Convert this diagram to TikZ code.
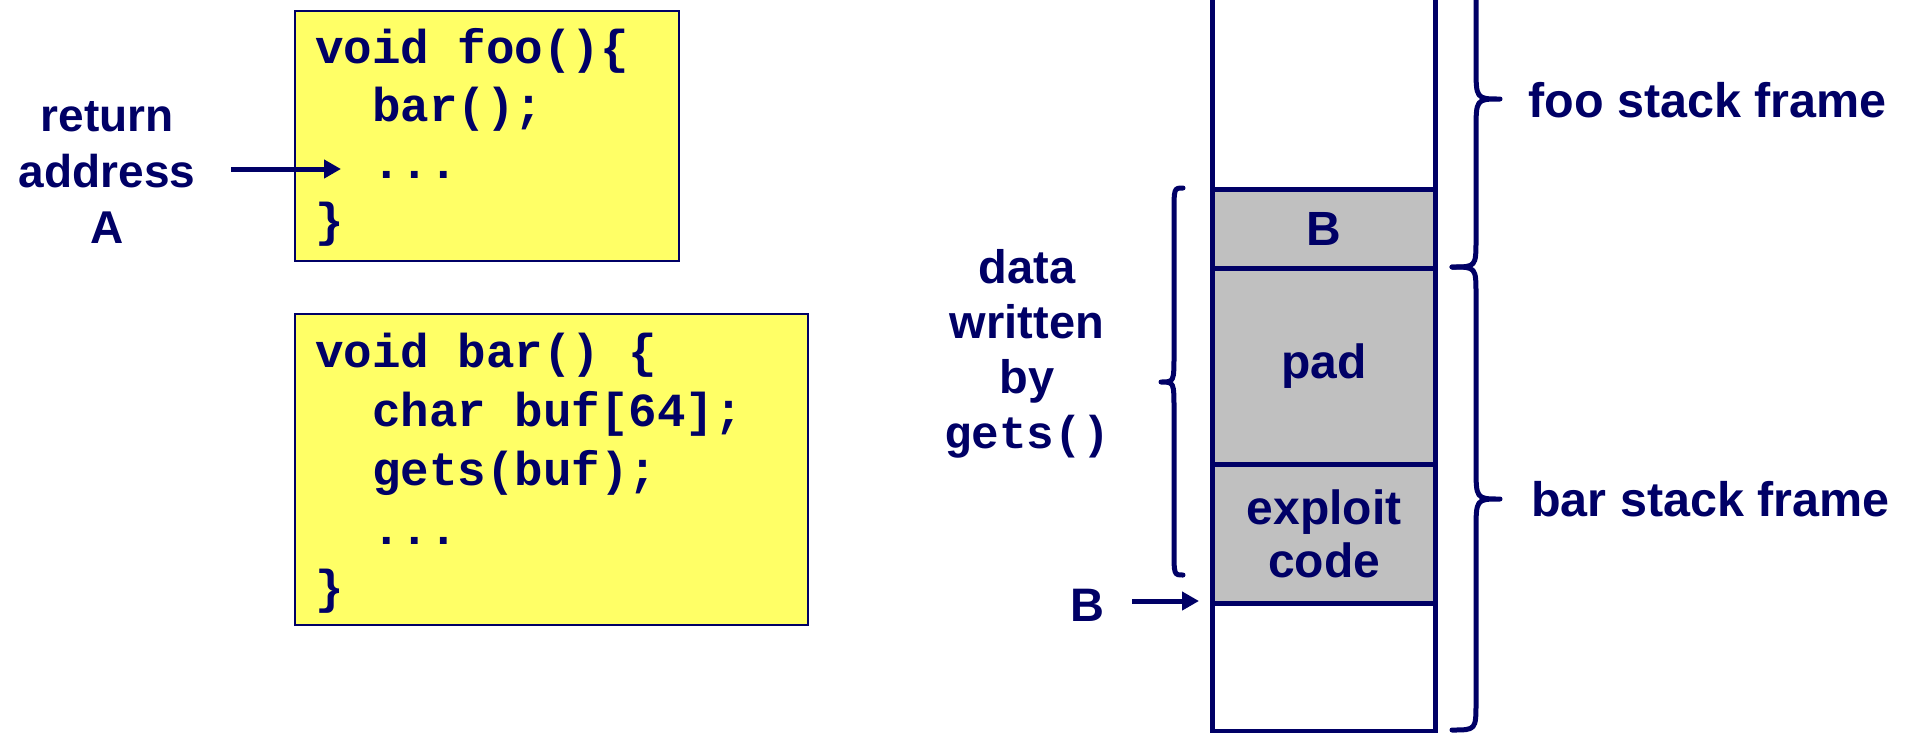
\documentclass[tikz,border=0pt]{standalone}
\usepackage{fontspec}
\setmainfont{Liberation Sans}
\newfontfamily\codefont{Liberation Mono}
\usetikzlibrary{arrows.meta}
\definecolor{navy}{RGB}{0,0,102}
\definecolor{codeyellow}{RGB}{255,255,102}
\definecolor{cellgray}{RGB}{192,192,192}
\begin{document}
\begin{tikzpicture}[x=1pt,y=-1pt,
  lbl/.style={text=navy, font=\fontsize{47}{56}\selectfont\bfseries, align=center, inner sep=0pt},
  framelbl/.style={lbl, font=\fontsize{48.5}{56}\selectfont\bfseries, anchor=west},
  codebox/.style={draw=navy, line width=2pt, fill=codeyellow, anchor=north west, inner sep=0pt},
  codetxt/.style={text=navy, font=\fontsize{47.5}{57.5}\selectfont\codefont\bfseries, align=left, inner sep=0pt, anchor=base west},
  cell/.style={draw=navy, line width=5pt, anchor=north west, minimum width=223pt, inner sep=0pt, text=navy, font=\fontsize{48}{53}\selectfont\bfseries, align=center},
  graycell/.style={cell, fill=cellgray},
  arr/.style={draw=navy, line width=5pt, -{Triangle[length=17pt,width=18pt]}},
  brace/.style={draw=navy, line width=5pt, line cap=round, line join=round}
]
\useasboundingbox (0,0) rectangle (1908,732);
\clip (0,0) rectangle (1908,732);
\fill[white] (0,0) rectangle (1908,732);

% code boxes
\node[codebox, minimum width=384pt, minimum height=250pt] (fooBox) at (294,10) {};
\node[codebox, minimum width=513pt, minimum height=311pt] (barBox) at (294,313) {};
\node[codetxt] (fooCode) at (315,236) {void foo()\{\\\phantom{vo}bar();\\\phantom{vo}...\\\}};
\node[codetxt, font=\fontsize{47.5}{59}\selectfont\codefont\bfseries] (barCode) at (315,603) {void bar() \{\\\phantom{vo}char buf[64];\\\phantom{vo}gets(buf);\\\phantom{vo}...\\\}};

% return address
\node[lbl, font=\fontsize{46}{56}\selectfont\bfseries] (retA) at (107,172) {return\\address\\A};
\coordinate (retStart) at (231,169);
\coordinate (retTip) at (341,169);
\draw[arr] (retStart) -- (retTip);

% stack
\node[cell, minimum height=207pt] (topCell) at (1210,-20) {};
\node[graycell, minimum height=79pt] (bCell) at (1210,187) {B};
\node[graycell, minimum height=196pt] (padCell) at (1210,266) {pad};
\node[graycell, minimum height=139pt] (exploit) at (1210,462) {exploit\\code};
\node[cell, minimum height=128pt] (botCell) at (1210,601) {};

% left labels
\node[lbl, font=\fontsize{47}{55}\selectfont\bfseries] (dataLbl) at (1027,354) {data\\written\\by\\{\codefont\fontsize{46}{55}\selectfont gets()}};
\node[lbl] (bLbl) at (1087,605) {B};
\coordinate (bStart) at (1132,601);
\draw[arr] (bStart) -- ([xshift=-11pt]exploit.south west |- bStart);

% braces
\draw[brace] (1183,188) .. controls (1174,188) .. (1174,214) -- (1174,354)
  .. controls (1174,382) .. (1161,382) .. controls (1174,382) .. (1174,410)
  -- (1174,549) .. controls (1174,575) .. (1183,575);
\draw[brace] (1452,-69) .. controls (1476,-69) .. (1476,-41) -- (1476,66)
  .. controls (1476,99) .. (1500,99) .. controls (1476,99) .. (1476,132)
  -- (1476,239) .. controls (1476,267) .. (1452,267);
\draw[brace] (1452,267) .. controls (1476,267) .. (1476,295) -- (1476,466)
  .. controls (1476,499) .. (1500,499) .. controls (1476,499) .. (1476,532)
  -- (1476,702) .. controls (1476,730) .. (1452,730);

% frame labels
\node[framelbl] (fooFrame) at (1528,100) {foo stack frame};
\node[framelbl] (barFrame) at (1531,499) {bar stack frame};
\end{tikzpicture}
\end{document}
